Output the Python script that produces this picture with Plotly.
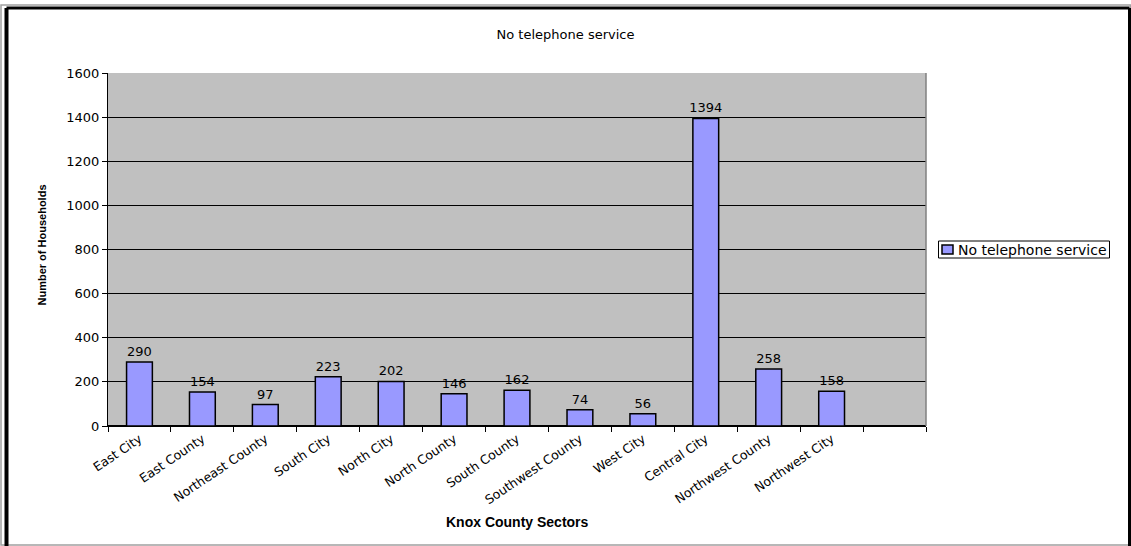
import plotly.graph_objects as go

# Households without telephone service, by Knox County sector
sectors = ["East City", "East County", "Northeast County", "South City", "North City",
           "North County", "South County", "Southwest County", "West City", "Central City",
           "Northwest County", "Northwest City"]
households = [290, 154, 97, 223, 202, 146, 162, 74, 56, 1394, 258, 158]
spare_slot = " "  # empty trailing category slot on the x axis
series_name = "No telephone service"

y_ticks = [0, 200, 400, 600, 800, 1000, 1200, 1400, 1600]

W, H = 1131, 546
L, R, T, B = 108, 926, 73, 426  # plot area edges in pixels

def px_x(px):
    return (px - L) / (R - L)

def px_y(py):
    return (B - py) / (B - T)

FONT = "DejaVu Sans, Arial, sans-serif"
BOLD = "Liberation Sans, Arial, sans-serif"
BAR_FILL = "#9999FF"

fig = go.Figure()
fig.add_trace(go.Bar(
    x=sectors + [spare_slot],
    y=households + [None],
    text=[str(v) for v in households] + [""],
    textposition="outside",
    constraintext="none",
    textfont=dict(family=FONT, size=13, color="black"),
    cliponaxis=False,
    width=0.41,
    marker=dict(color=BAR_FILL, line=dict(color="black", width=1.5)),
    name=series_name,
    showlegend=False,
))

fig.update_layout(
    width=W, height=H,
    margin=dict(l=L, r=W - R, t=T, b=H - B, autoexpand=False),
    paper_bgcolor="white",
    plot_bgcolor="#C0C0C0",
    font=dict(family=FONT, size=13, color="black"),
    title=dict(text="No telephone service", x=0.5, xref="container",
               y=1 - 34 / H, yref="container", yanchor="middle", xanchor="center",
               font=dict(family=FONT, size=13, color="black")),
    xaxis=dict(
        type="category",
        categoryorder="array", categoryarray=sectors + [spare_slot],
        range=[-0.5, len(sectors) + 0.5],
        tickson="boundaries", ticks="outside", ticklen=5, tickcolor="black",
        tickangle=-34, tickfont=dict(family=FONT, size=12.5),
        showline=True, linecolor="black", linewidth=1,
        showgrid=False, zeroline=False,
    ),
    yaxis=dict(
        range=[0, 1600], tickvals=y_ticks,
        ticks="outside", ticklen=5, tickcolor="black",
        tickfont=dict(family=FONT, size=13),
        showline=True, linecolor="black", linewidth=1,
        showgrid=True, gridcolor="black", gridwidth=1,
        zeroline=True, zerolinecolor="black",
    ),
    annotations=[
        dict(text="<b>Knox County Sectors</b>", xref="paper", yref="paper",
             x=0.5, y=px_y(522), xanchor="center", yanchor="middle", showarrow=False,
             font=dict(family=BOLD, size=14)),
        dict(text="<b>Number of Households</b>", xref="paper", yref="paper",
             x=px_x(41.5), y=px_y(245), xanchor="center", yanchor="middle",
             textangle=-90, showarrow=False, font=dict(family=BOLD, size=11)),
        # legend entry label
        dict(text=series_name, xref="paper", yref="paper",
             x=px_x(956), y=px_y(249.5), xanchor="left", yanchor="middle",
             showarrow=False, font=dict(family=FONT, size=14)),
    ],
    shapes=[
        # right edge of the plot area
        dict(type="line", xref="paper", yref="paper", x0=1, x1=1, y0=0, y1=1,
             line=dict(color="#808080", width=1.5)),
        # legend box and swatch
        dict(type="rect", xref="paper", yref="paper",
             x0=px_x(938.5), x1=px_x(1109.5), y0=px_y(241), y1=px_y(258),
             line=dict(color="black", width=1), fillcolor="white"),
        dict(type="rect", xref="paper", yref="paper",
             x0=px_x(942), x1=px_x(953), y0=px_y(245), y1=px_y(254),
             line=dict(color="black", width=1.5), fillcolor=BAR_FILL),
        # outer chart frame
        dict(type="rect", xref="paper", yref="paper",
             x0=px_x(1), x1=px_x(1130.5), y0=px_y(5), y1=px_y(545),
             line=dict(color="#A0A0A0", width=1.5)),
        dict(type="line", xref="paper", yref="paper",
             x0=px_x(6.5), x1=px_x(6.5), y0=px_y(8), y1=px_y(546),
             line=dict(color="black", width=4)),
        dict(type="line", xref="paper", yref="paper",
             x0=px_x(6.5), x1=px_x(1129.5), y0=px_y(8), y1=px_y(8),
             line=dict(color="black", width=3)),
        dict(type="line", xref="paper", yref="paper",
             x0=px_x(1129.5), x1=px_x(1129.5), y0=px_y(8), y1=px_y(546),
             line=dict(color="black", width=3)),
    ],
)

fig.write_html("out.html")
